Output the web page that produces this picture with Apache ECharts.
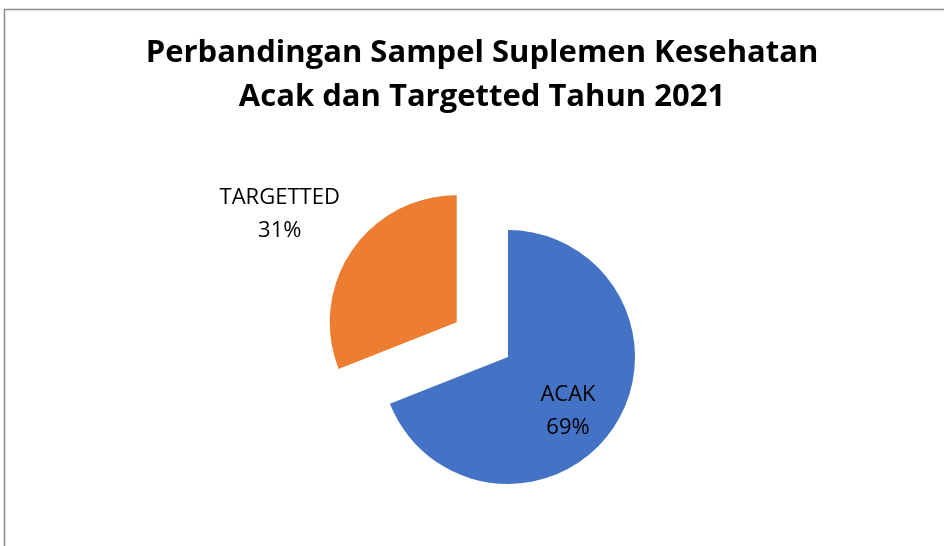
<!DOCTYPE html>
<html>
<head>
<meta charset="utf-8">
<script src="https://cdn.jsdelivr.net/npm/echarts@6/dist/echarts.min.js"></script>
<style>
  html, body { margin: 0; padding: 0; background: #fff; }
  #chart { width: 944px; height: 546px; }
</style>
</head>
<body>
<div id="chart"></div>
<script>
// data
var categories = ['ACAK', 'TARGETTED'];
var values = [69, 31];
var colors = ['#4472C4', '#ED7D31'];
var explodedItem = 'TARGETTED';
// label shifts (Excel places labels differently from echarts)
var labelShifts = [[5, 17], [-122, -71]];

var pieData = [];
for (var i = 0; i < categories.length; i++) {
    pieData.push({
        name: categories[i],
        value: values[i],
        selected: categories[i] === explodedItem,
        itemStyle: { color: colors[i] }
    });
}

var myChart = echarts.init(document.getElementById('chart'));
var options = {
    animation: false,
    backgroundColor: '#fff',
    title: {
        text: 'Perbandingan Sampel Suplemen Kesehatan\nAcak dan Targetted Tahun 2021',
        left: 477,
        top: 26,
        textAlign: 'center',
        textStyle: {
            fontFamily: 'Open Sans',
            fontWeight: 'bold',
            fontSize: 31,
            lineHeight: 44,
            color: '#000'
        }
    },
    // chart frame (only top/left edges visible in the crop)
    graphic: [{
        type: 'rect',
        shape: { x: 4.5, y: 9.5, width: 1200, height: 1200 },
        style: { fill: 'none', stroke: '#8c8c8c', lineWidth: 1.5 },
        silent: true
    }],
    series: [{
        type: 'pie',
        center: [508, 357],
        radius: 127,
        startAngle: 90,
        clockwise: true,
        selectedMode: 'single',
        selectedOffset: 62,
        label: {
            show: true,
            position: 'inside',
            formatter: '{b}\n{d}%',
            fontFamily: 'Open Sans',
            fontSize: 22,
            lineHeight: 33,
            color: '#000'
        },
        labelLine: { show: false },
        labelLayout: function (params) {
            var s = labelShifts[params.dataIndex];
            return { dx: s[0], dy: s[1] };
        },
        emphasis: { disabled: true },
        data: pieData
    }]
};
myChart.setOption(options);
</script>
</body>
</html>
